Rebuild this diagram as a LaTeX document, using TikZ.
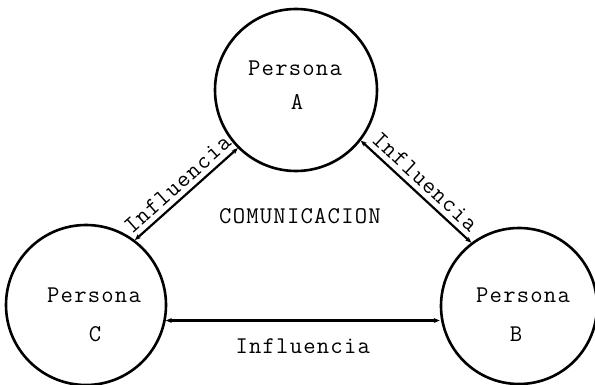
\documentclass[tikz,border=0pt]{standalone}
\usepackage{fontspec}
\newfontfamily\tw[LetterSpace=5]{Latin Modern Mono}
\usetikzlibrary{arrows.meta}
\begin{document}
\begin{tikzpicture}[x=1pt,y=-1pt,
  person/.style={circle,draw,line width=2.6pt,minimum size=#1,inner sep=0pt},
  txt/.style={font=\tw\fontsize{24}{28}\selectfont,inner sep=0pt,anchor=base},
  link/.style={line width=2.2pt,{Stealth[length=6pt,width=5pt]}-{Stealth[length=6pt,width=5pt]}},
  lab/.style={font=\tw\fontsize{24}{28}\selectfont,inner sep=0pt}]
\useasboundingbox (0,0) rectangle (595,385);
\node[person=162pt] (A) at (296,90) {};
\node[person=160pt] (C) at (86,305) {};
\node[person=156pt] (B) at (519,306) {};
\node[txt] (pa) at (295,76) {Persona};
\node[txt] (la) at (297,110) {A};
\node[txt] (pc) at (94,302) {Persona};
\node[txt] (lc) at (95,341) {C};
\node[txt] (pb) at (523,302) {Persona};
\node[txt] (lb) at (516,341) {B};
\node[txt] (com) at (300,223) {COMUNICACION};
\draw[link] (C.53) -- node[lab,midway,sloped,above=5pt] {Influencia} (A.225);
\draw[link] (A.322) -- node[lab,midway,sloped,above=5pt] {Influencia} (B.127);
\draw[link] (C.-11) -- node[lab,midway,below=17pt] {Influencia} (C.-11 -| B.west);
\end{tikzpicture}
\end{document}
